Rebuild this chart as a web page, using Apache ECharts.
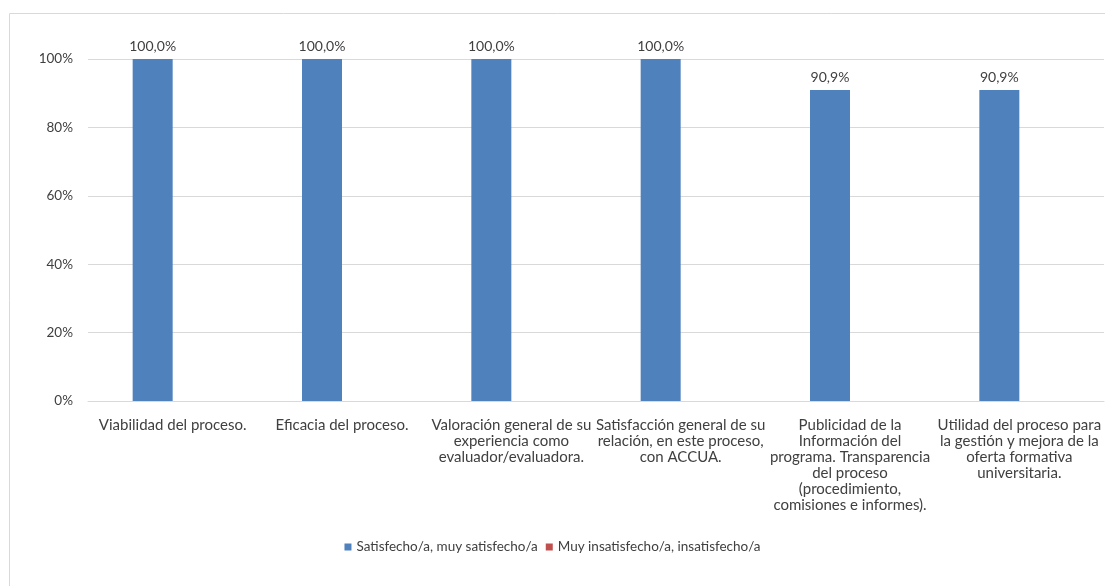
<!DOCTYPE html>
<html>
<head>
<meta charset="utf-8">
<script src="https://cdn.jsdelivr.net/npm/echarts@6/dist/echarts.min.js"></script>
<style>
  html, body { margin: 0; padding: 0; background: #fff; }
  #chart { width: 1105px; height: 586px; }
</style>
</head>
<body>
<div id="chart"></div>
<script>
// Category labels, wrapped the way the original chart wraps them
const categories = [
  'Viabilidad del proceso.',
  'Eficacia del proceso.',
  'Valoración general de su\nexperiencia como\nevaluador/evaluadora.',
  'Satisfacción general de su\nrelación, en este proceso,\ncon ACCUA.',
  'Publicidad de la\nInformación del\nprograma. Transparencia\ndel proceso\n(procedimiento,\ncomisiones e informes).',
  'Utilidad del proceso para\nla gestión y mejora de la\noferta formativa\nuniversitaria.'
];
const satisfechos = [100.0, 100.0, 100.0, 100.0, 90.9, 90.9];
const insatisfechos = [0, 0, 0, 0, 0, 0];
const seriesNames = ['Satisfecho/a, muy satisfecho/a', 'Muy insatisfecho/a, insatisfecho/a'];
const yTicks = [0, 20, 40, 60, 80, 100];

const FONT = 'Lato, "Noto Sans", sans-serif';
const TEXT = '#404040';

const chart = echarts.init(document.getElementById('chart'), null, { renderer: 'canvas' });
chart.setOption({
  animation: false,
  textStyle: { fontFamily: FONT },
  graphic: [{
    type: 'rect', z: -10,
    shape: { x: 9.5, y: 13.5, width: 1110, height: 590 },
    style: { fill: 'none', stroke: '#d9d9d9', lineWidth: 1 }
  }],
  grid: { left: 88, right: 1, top: 59, bottom: 185, containLabel: false },
  legend: {
    bottom: 27, left: 'center',
    itemWidth: 7, itemHeight: 7, itemGap: 8,
    icon: 'rect',
    textStyle: { fontSize: 13.5, color: TEXT, fontFamily: FONT },
    data: seriesNames
  },
  xAxis: {
    type: 'category', data: categories,
    axisTick: { show: false },
    axisLine: { lineStyle: { color: '#d9d9d9' } },
    axisLabel: { interval: 0, fontSize: 15, color: TEXT, lineHeight: 16, margin: 16, fontFamily: FONT }
  },
  yAxis: {
    type: 'value', min: yTicks[0], max: yTicks[yTicks.length - 1], interval: 20,
    axisLine: { show: false }, axisTick: { show: false },
    splitLine: { lineStyle: { color: '#d9d9d9' } },
    axisLabel: { formatter: '{value}%', fontSize: 13.5, color: TEXT, margin: 15, fontFamily: FONT }
  },
  series: [
    {
      name: seriesNames[0], type: 'bar', data: satisfechos,
      barWidth: 40, barGap: '0%',
      itemStyle: { color: '#4F81BD' },
      label: {
        show: true, position: 'top', distance: 6, fontSize: 14, color: TEXT, fontFamily: FONT,
        formatter: p => p.value.toFixed(1).replace('.', ',') + '%'
      }
    },
    {
      name: seriesNames[1], type: 'bar', data: insatisfechos,
      barWidth: 40,
      itemStyle: { color: '#C0504D' }
    }
  ]
});
</script>
</body>
</html>
